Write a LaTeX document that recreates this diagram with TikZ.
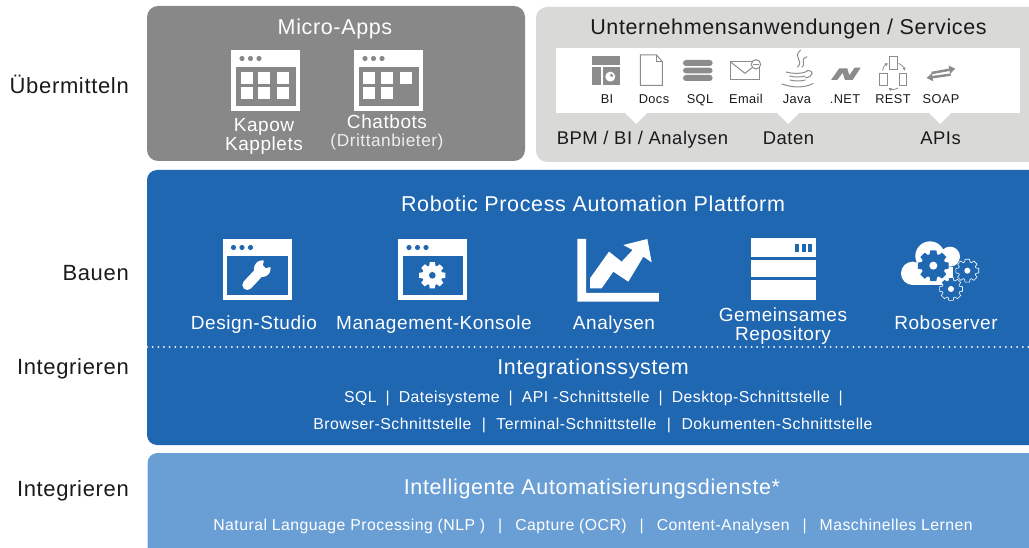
\documentclass[tikz,border=0pt]{standalone}
\usepackage{fontspec}
\setmainfont{Liberation Sans}[LetterSpace=3]
\usetikzlibrary{arrows.meta}
\definecolor{microgray}{HTML}{888888}
\definecolor{servicegray}{HTML}{D9D9D8}
\definecolor{iconicon}{HTML}{8C8C8C}
\definecolor{platformblue}{HTML}{2067B2}
\definecolor{serviceblue}{HTML}{6A9FD6}
\definecolor{labeltext}{HTML}{1A1A1A}

% browser window with dots, #1 x, #2 y, #3 colour behind it
\newcommand{\windowicon}[3]{
    \fill[white] (#1,#2) rectangle ++(69,61);
    \fill[#3] (#1+4.5,#2+17) rectangle ++(60.5,39);
    \fill[#3] (#1+11,#2+8.5) circle (2.6);
    \fill[#3] (#1+19.5,#2+8.5) circle (2.6);
    \fill[#3] (#1+28,#2+8.5) circle (2.6);
}
% gear, #1 options, #2 x, #3 y, #4 outer radius, #5 inner radius
\newcommand{\gearicon}[5][]{
    \path[#1] ([shift={(#2,#3)}]-11:#4)
        \foreach \a in {0,45,...,315} {
            -- ([shift={(#2,#3)}]\a-11:#4) -- ([shift={(#2,#3)}]\a+11:#4)
            -- ([shift={(#2,#3)}]\a+18:#5) -- ([shift={(#2,#3)}]\a+27:#5)
        } -- cycle;
}
% separator in the lists, #1 gap
\newcommand{\listsep}[1]{\hspace{#1}|\hspace{#1}}

\begin{document}
\begin{tikzpicture}[x=1pt,y=-1pt,inner sep=0pt,
    sidelabel/.style={anchor=base east,text=labeltext,font=\fontsize{22}{26}\selectfont},
    paneltitle/.style={anchor=base,text=white,font=\fontsize{21.5}{26}\selectfont},
    iconlabel/.style={anchor=base,text=white,font=\fontsize{19}{23}\selectfont},
    darktitle/.style={anchor=base,text=labeltext,font=\fontsize{21.5}{26}\selectfont},
    darklabel/.style={anchor=base,text=labeltext,font=\fontsize{18.4}{22}\selectfont},
    tinylabel/.style={anchor=base,text=labeltext,font=\fontsize{12.8}{15}\selectfont},
    listlabel/.style={anchor=base,text=white,font=\fontsize{15.8}{19}\selectfont},
    iconline/.style={draw=iconicon,line width=1pt,fill=none}]
    \useasboundingbox (0,0) rectangle (1029,548);
    \clip (0,0) rectangle (1029,548);

    % Panels
    \fill[microgray,rounded corners=11pt] (147,6) rectangle (525,161);
    \fill[servicegray,rounded corners=11pt] (536,7) rectangle (1050,162);
    \fill[platformblue,rounded corners=10pt] (147,170) rectangle (1050,445);
    \fill[serviceblue,rounded corners=10pt] (147.5,453) rectangle (1050,570);
    \fill[white] (556,48) rectangle (1020,113);
    \fill[white] (625,113) -- (647,113) -- (636,124) -- cycle;
    \fill[white] (777,113) -- (799,113) -- (788,124) -- cycle;
    \fill[white] (929,113) -- (951,113) -- (940,124) -- cycle;
    \draw[white,line width=2pt,line cap=round,dash pattern=on 0pt off 5.65pt] (147,347) -- (1029,347);

    % Left labels
    \node[sidelabel] (deliver) at (129,94) {Übermitteln};
    \node[sidelabel] (build) at (129,281) {Bauen};
    \node[sidelabel] (integrate) at (129,374.5) {Integrieren};
    \node[sidelabel] (integrateb) at (129,496) {Integrieren};

    % Micro-Apps
    \node[paneltitle] (microapps) at (335,35) {Micro-Apps};
    \windowicon{231}{50}{microgray}
    \windowicon{354}{50}{microgray}
    \foreach \x in {240.5,258,277} {
        \fill[white] (\x,72) rectangle ++(12,12);
        \fill[white] (\x,87) rectangle ++(12,12);
    }
    \foreach \x in {363,381,400} {
        \fill[white] (\x,72) rectangle ++(12,12);
    }
    \foreach \x in {363,381} {
        \fill[white] (\x,87) rectangle ++(12,12);
    }
    \node[iconlabel] (kapow) at (264,132) {Kapow};
    \node[iconlabel] (kapplets) at (264,151) {Kapplets};
    \node[iconlabel] (chatbots) at (387,129) {Chatbots};
    \node[iconlabel,font=\fontsize{17.3}{21}\selectfont,text=white!85!microgray] (thirdparty) at (387,147) {(Drittanbieter)};

    % Services
    \node[darktitle] (services) at (788.5,35) {Unternehmensanwendungen / Services};
    \node[darklabel] (bpm) at (642.5,145) {BPM / BI / Analysen};
    \node[darklabel] (data) at (788.5,145) {Daten};
    \node[darklabel] (apis) at (940.5,145) {APIs};
    \node[tinylabel] (bi) at (607,104) {BI};
    \node[tinylabel] (docs) at (654,104) {Docs};
    \node[tinylabel] (sql) at (700,104) {SQL};
    \node[tinylabel] (email) at (746,104) {Email};
    \node[tinylabel] (java) at (797,104) {Java};
    \node[tinylabel] (dotnet) at (845,104) {.NET};
    \node[tinylabel] (rest) at (893,104) {REST};
    \node[tinylabel] (soap) at (941,104) {SOAP};

    % Service icons, drawn at three times the size
    \begin{scope}[shift={(530,0)},x=0.3333pt,y=-0.3333pt]
        \fill[iconicon] (186,168) rectangle (270,195);
        \fill[iconicon] (186,200) rectangle (213,255);
        \fill[iconicon] (218,200) rectangle (270,255);
        \fill[white] (241,230) circle (15);
        \fill[iconicon] (241,230) -- (241,221) arc (-90:0:9) -- cycle;
        % document
        \draw[iconline] (331,165) -- (380,165) -- (397,185) -- (397,256) -- (331,256) -- cycle;
        \draw[iconline] (380,165) -- (380,185) -- (397,185);
        % database
        \fill[iconicon,rounded corners=3pt] (459,180) rectangle (548,198);
        \fill[iconicon,rounded corners=3pt] (459,203) rectangle (548,220);
        \fill[iconicon,rounded corners=3pt] (459,225) rectangle (548,243);
        % envelope
        \draw[iconline] (602,186) -- (688,186) -- (688,238) -- (602,238) -- cycle;
        \draw[iconline] (602,186) -- (645,220) -- (688,186);
        \draw[iconline,fill=white] (678,193) circle (14);
        \draw[iconline] (670,194) -- (686,194);
        % java
        \draw[iconline] (812,150) .. controls (785,175) and (825,180) .. (802,202);
        \draw[iconline] (832,170) .. controls (805,180) and (832,190) .. (815,202);
        \draw[iconline] (768,216) .. controls (790,222) and (815,222) .. (832,214);
        \draw[iconline] (778,228) .. controls (795,232) and (812,232) .. (826,228);
        \draw[iconline] (780,240) .. controls (795,244) and (812,244) .. (826,240);
        \draw[iconline] (755,252) .. controls (790,264) and (825,264) .. (850,250);
        \draw[iconline] (830,212) .. controls (855,210) and (850,230) .. (826,234);
        % dotnet
        \fill[iconicon] (903,240) -- (928,205) -- (952,205) -- (958,226) -- (974,203) -- (992,203) -- (968,240) -- (945,240) -- (938,218) -- (922,240) -- cycle;
        % rest
        \draw[iconline] (1078,170) rectangle (1102,208);
        \draw[iconline] (1050,222) rectangle (1072,258);
        \draw[iconline] (1108,222) rectangle (1130,258);
        \draw[iconicon,line width=0.8pt,-{Triangle[length=3pt,width=3pt]}] (1058,212) .. controls (1060,200) and (1065,195) .. (1074,190);
        \draw[iconicon,line width=0.8pt,-{Triangle[length=3pt,width=3pt]}] (1106,190) .. controls (1115,195) and (1122,202) .. (1124,212);
        \draw[iconicon,line width=0.8pt,-{Triangle[length=3pt,width=3pt]}] (1104,264) .. controls (1098,268) and (1085,270) .. (1076,264);
        % soap
        \draw[iconicon,line width=2.5pt,-{Triangle[length=6pt,width=8pt]}] (1205,219) -- (1276,206);
        \draw[iconicon,line width=2.5pt,-{Triangle[length=6pt,width=8pt]}] (1262,224) -- (1190,234);
    \end{scope}

    % Platform
    \node[paneltitle] (platform) at (593,212) {Robotic Process Automation Plattform};
    \windowicon{222.5}{239}{platformblue}
    \windowicon{398}{239}{platformblue}
    \begin{scope}[shift={(180,225)},x=0.3333pt,y=-0.3333pt]
        % wrench
        \draw[white,line width=10pt,line cap=round] (202,180) -- (243,136);
        \fill[white] (247,131) circle (25);
        \fill[platformblue] (254,98) -- (249,120) -- (257,129) -- (282,124) -- (282,98) -- cycle;
        % small gear
        \gearicon[fill=white]{757}{151}{40}{30}
        \fill[platformblue] (757,151) circle (10);
    \end{scope}
    \begin{scope}[shift={(560,225)},x=0.3333pt,y=-0.3333pt]
        % analytics
        \fill[white] (52,42) -- (78,42) -- (78,204) -- (297,204) -- (297,230) -- (52,230) -- cycle;
        \fill[white] (90,190) -- (125,190) -- (160,140) -- (205,170) -- (250,95) -- (275,112) -- (262,42) -- (190,60) -- (218,75) -- (185,110) -- (147,80) -- (90,160) -- cycle;
        % repository
        \fill[white] (573,40) rectangle (768,97);
        \fill[white] (573,104) rectangle (768,157);
        \fill[white] (573,164) rectangle (768,224);
        \fill[platformblue] (706,58) rectangle (716,82);
        \fill[platformblue] (727,58) rectangle (737,82);
        \fill[platformblue] (745,58) rectangle (755,82);
    \end{scope}
    \begin{scope}[shift={(890,240)},x=0.3333pt,y=-0.3333pt]
        % cloud
        \fill[white] (68,100) circle (35);
        \fill[white] (120,48) circle (44);
        \fill[white] (180,50) circle (30);
        \fill[white] (68,80) rectangle (190,135);
        \gearicon[fill=platformblue]{130}{77}{47}{36}
        \fill[white] (130,77) circle (12);
        \gearicon[fill=platformblue,draw=white,line width=0.6pt]{232}{92}{35}{27}
        \fill[white] (232,92) circle (9);
        \gearicon[fill=platformblue,draw=white,line width=0.6pt]{183}{147}{35}{27}
        \fill[white] (183,147) circle (9);
    \end{scope}
    \node[iconlabel] (studio) at (254,330) {Design-Studio};
    \node[iconlabel] (console) at (434,330) {Management-Konsole};
    \node[iconlabel] (analytics) at (614,330) {Analysen};
    \node[iconlabel] (shared) at (783,322) {Gemeinsames};
    \node[iconlabel] (repository) at (783,341) {Repository};
    \node[iconlabel] (roboserver) at (946,330) {Roboserver};

    % Integration
    \node[paneltitle] (integration) at (593,374) {Integrationssystem};
    \node[listlabel] (listone) at (598,402) {SQL\listsep{9pt}Dateisysteme\listsep{9pt}API -Schnittstelle\listsep{9pt}Desktop-Schnittstelle\listsep{9pt}\hspace{-9pt}};
    \node[listlabel] (listtwo) at (593,429) {Browser-Schnittstelle\listsep{10.5pt}Terminal-Schnittstelle\listsep{10.5pt}Dokumenten-Schnittstelle};

    % Intelligent services
    \node[paneltitle] (intelligent) at (592,494) {Intelligente Automatisierungsdienste*};
    \node[listlabel] (listthree) at (593,530) {Natural Language Processing (NLP )\listsep{13pt}Capture (OCR)\listsep{13pt}Content-Analysen\listsep{13pt}Maschinelles Lernen};
\end{tikzpicture}
\end{document}
